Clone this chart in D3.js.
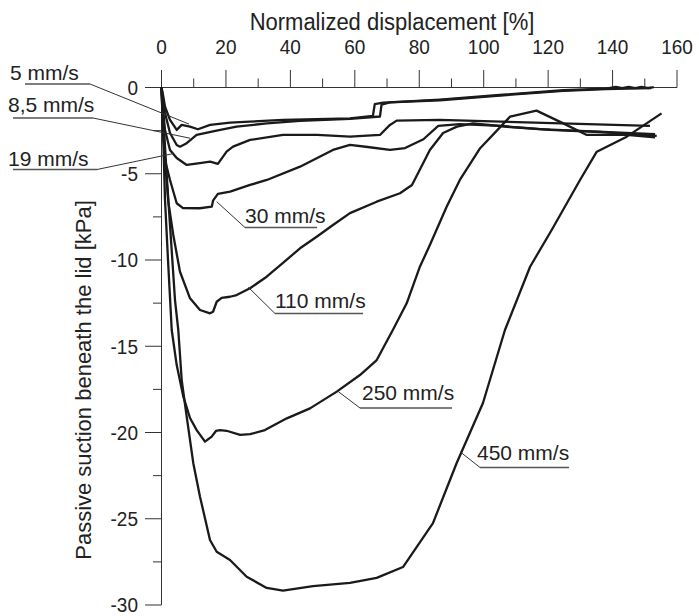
<!DOCTYPE html>
<html lang="en">
<head>
<meta charset="utf-8">
<title>Passive suction vs displacement</title>
<script src="https://cdn.jsdelivr.net/npm/d3@7"></script>
<style>
  body { margin: 0; background: #fff; }
  svg { display: block; font-family: "Liberation Sans", Arial, sans-serif; }
  .curve { fill: none; stroke: #1a1a1a; stroke-width: 2.3; stroke-linejoin: round; }
  .axis line, .axis path { stroke: #333; stroke-width: 1; }
  .tick-label { font-size: 19px; fill: #222; }
  .title { font-size: 22px; fill: #222; }
  .ytitle { font-size: 22px; fill: #222; }
  .lbl { font-size: 21px; fill: #222; }
  .leader { stroke: #333; stroke-width: 1; fill: none; }
  .uline { stroke: #555; stroke-width: 1.3; }
</style>
</head>
<body>
<div id="chart"></div>
<script>
// speed of each test
var speeds = ["5 mm/s", "8,5 mm/s", "19 mm/s", "30 mm/s", "110 mm/s", "250 mm/s", "450 mm/s"];

// [normalized displacement %, suction kPa]
var curve5 = [[0,0],[0.47,-0.43],[1.09,-1.11],[2.64,-1.88],[4.72,-2.46],[6.27,-2.17],[8.85,-2.27],[11.3,-2.42],
  [15.1,-2.17],[21.3,-2.04],[27.4,-1.98],[37.7,-1.88],[48.2,-1.84],[58.5,-1.79],[65.6,-1.65],[66.2,-0.96],
  [68.8,-0.88],[75,-0.82],[86.4,-0.7],[104,-0.45],[124.7,-0.16],[138,-0.06],[141,0.03],[143,-0.04],[145,0.04],
  [147,-0.03],[149,0.04],[151,-0.03],[152.8,0.02]];
var curve85 = [[0,0],[1.09,-1.48],[2.64,-2.64],[4.72,-3.33],[5.74,-3.43],[7.82,-3.23],[10.9,-2.75],[17.1,-2.5],
  [23.3,-2.27],[32.7,-2.08],[43,-1.94],[58.5,-1.82],[67.8,-1.68],[68.3,-0.99],[70.9,-0.86],[86.4,-0.74],
  [104,-0.48],[124.7,-0.2],[138,-0.09],[152,-0.03]];
var curve19 = [[0,0],[0.47,-1.3],[1.09,-2.46],[2.64,-3.62],[4.72,-4.09],[7.82,-4.49],[11.9,-4.39],[15.1,-4.3],
  [17.5,-4.43],[20.2,-3.72],[22.2,-3.43],[27.5,-3.04],[37.7,-2.75],[48.3,-2.75],[58.5,-2.85],[67.8,-2.75],
  [70.9,-2.17],[73,-1.92],[86.4,-1.88],[151.6,-2.23]];
var curve30 = [[0,0],[0.47,-2.46],[1.09,-4.2],[2.64,-5.36],[4.72,-6.71],[6.67,-6.99],[11.9,-7.0],[15.6,-6.91],
  [16,-6.56],[17.5,-6.17],[21.3,-6.04],[27.5,-5.65],[32.7,-5.36],[43,-4.59],[53.2,-3.62],[58.5,-3.33],
  [64,-3.45],[70.9,-3.62],[75.6,-3.51],[81.3,-3.0],[85.9,-2.23],[92.6,-2.12],[105.1,-2.23],[117.5,-2.41],
  [129.9,-2.52],[153.2,-2.7]];
var curve110 = [[0,0],[0.47,-1.88],[1.09,-4.2],[2.11,-6.62],[3.66,-8.55],[5.74,-10.68],[8.85,-12.22],
  [11.95,-12.9],[15.05,-13.09],[16,-13.0],[17.13,-12.42],[18.68,-12.19],[21.26,-12.13],[23.34,-12.03],
  [27.47,-11.64],[32.65,-10.97],[37.71,-10.17],[42.99,-9.32],[48.17,-8.65],[53.23,-7.97],[58.5,-7.28],
  [66.79,-6.62],[74.02,-6.13],[77.75,-5.65],[83.3,-3.62],[87.4,-2.64],[91.7,-2.27],[96.7,-2.08],
  [108.2,-2.29],[120.6,-2.46],[136.1,-2.58],[153.7,-2.81]];
var curve250 = [[0,0],[0.47,-2.46],[1.09,-6.52],[2.02,-10.0],[3.17,-14.06],[4.72,-16.09],[6.77,-17.92],
  [8.85,-19.16],[10.92,-19.86],[13.5,-20.53],[15.58,-20.24],[16.9,-19.91],[18.2,-19.86],[20.2,-19.9],
  [24.4,-20.14],[27.5,-20.1],[32.1,-19.86],[38.9,-19.18],[46.1,-18.6],[54.4,-17.63],[61.6,-16.67],
  [66.8,-15.8],[71.8,-14.06],[76.1,-12.51],[80.2,-10.39],[83.3,-9.13],[88.5,-6.91],[92.6,-5.36],
  [98.9,-3.52],[108.2,-1.69],[116.4,-1.34],[124.7,-2.08],[132,-2.75],[144.4,-2.75],[153.2,-2.89]];
var curve450 = [[0,0],[0.78,-2.46],[1.71,-5.36],[2.95,-8.84],[4.19,-12.32],[5.21,-14.06],[6.27,-16.96],
  [7.82,-19.08],[9.87,-21.78],[11.95,-23.72],[15.05,-26.23],[17.13,-26.91],[21.26,-27.39],[26.44,-28.36],
  [32.65,-29.01],[37.71,-29.17],[47.02,-28.9],[58.5,-28.72],[66.79,-28.43],[74.95,-27.8],[84.26,-25.25],
  [91.62,-21.77],[99.78,-18.29],[106.6,-14.06],[114.4,-10.39],[121.1,-8.26],[129.9,-5.36],[135.1,-3.72],
  [144.4,-2.85],[155.2,-1.5]];
var curves = [curve5, curve85, curve19, curve30, curve110, curve250, curve450];

// point on each curve that the label leader touches
var leaderTargets = [[8.54,-2.12],[8.85,-2.94],[3.66,-3.83],[17.13,-6.62],[26.94,-11.58],[54.87,-17.63],[92.64,-21.11]];

var xTicksMajor = [0, 20, 40, 60, 80, 100, 120, 140, 160];
var xTicksMinor = [10, 30, 50, 70, 90, 110, 130, 150];
var yTicksMajor = [0, -5, -10, -15, -20, -25, -30];
var yTicksMinor = [-2.5, -7.5, -12.5, -17.5, -22.5, -27.5];

var width = 699, height = 616;
// numbers in the original look slightly taller than wide
var stretch = 1.1;

// label layout: text x, baseline, underline y, underline x1, x2, side the leader leaves from
var labelLayout = [
  {tx: 10, ty: 80, uy: 84, x1: 25, x2: 90, side: "right"},
  {tx: 8, ty: 112, uy: 118, x1: 13, x2: 93, side: "right"},
  {tx: 8, ty: 166, uy: 169.5, x1: 13, x2: 97, side: "right"},
  {tx: 245, ty: 222.5, uy: 227.5, x1: 245, x2: 317, side: "left"},
  {tx: 275, ty: 308, uy: 313.5, x1: 275, x2: 363, side: "left"},
  {tx: 362, ty: 400, uy: 408, x1: 360, x2: 452, side: "left"},
  {tx: 477, ty: 460, uy: 467.5, x1: 480, x2: 569, side: "left"}
];

var x = d3.scaleLinear().domain([0, 160]).range([161.5, 677]);
var y = d3.scaleLinear().domain([0, -30]).range([87.5, 605]);

var svg = d3.select("#chart").append("svg")
  .attr("width", width)
  .attr("height", height);

// x axis on top
var gx = svg.append("g").attr("class", "axis");
gx.append("line")
  .attr("x1", x(0) - 16.5).attr("x2", x(160))
  .attr("y1", y(0)).attr("y2", y(0));
gx.selectAll(".xmaj").data(xTicksMajor).enter().append("line")
  .attr("x1", function(d) { return x(d); }).attr("x2", function(d) { return x(d); })
  .attr("y1", y(0)).attr("y2", y(0) - 17.5);
gx.selectAll(".xmin").data(xTicksMinor).enter().append("line")
  .attr("x1", function(d) { return x(d); }).attr("x2", function(d) { return x(d); })
  .attr("y1", y(0)).attr("y2", y(0) - 9);
svg.selectAll(".xlab").data(xTicksMajor).enter().append("text")
  .attr("class", "tick-label")
  .attr("transform", function(d) { return "translate(" + x(d) + ",54) scale(1," + stretch + ")"; })
  .attr("text-anchor", "middle")
  .text(function(d) { return d; });

svg.append("text")
  .attr("class", "title")
  .attr("transform", "translate(392,30) scale(1," + stretch + ")")
  .attr("text-anchor", "middle")
  .text("Normalized displacement [%]");

// y axis
var gy = svg.append("g").attr("class", "axis");
gy.append("line")
  .attr("x1", x(0)).attr("x2", x(0))
  .attr("y1", y(0)).attr("y2", y(-30));
gy.selectAll(".ymaj").data(yTicksMajor).enter().append("line")
  .attr("x1", x(0) - 16.5).attr("x2", x(0))
  .attr("y1", function(d) { return y(d); }).attr("y2", function(d) { return y(d); });
gy.selectAll(".ymin").data(yTicksMinor).enter().append("line")
  .attr("x1", x(0) - 8.5).attr("x2", x(0))
  .attr("y1", function(d) { return y(d); }).attr("y2", function(d) { return y(d); });
svg.selectAll(".ylab").data(yTicksMajor).enter().append("text")
  .attr("class", "tick-label")
  .attr("transform", function(d) { return "translate(138," + y(d) + ") scale(1," + stretch + ")"; })
  .attr("dy", "0.35em")
  .attr("text-anchor", "end")
  .text(function(d) { return String(d); });

svg.append("text")
  .attr("class", "ytitle")
  .attr("transform", "translate(91,380) rotate(-90)")
  .attr("text-anchor", "middle")
  .text("Passive suction beneath the lid [kPa]");

// curves
var line = d3.line()
  .x(function(d) { return x(d[0]); })
  .y(function(d) { return y(d[1]); });

svg.selectAll(".curve").data(curves).enter().append("path")
  .attr("class", "curve")
  .attr("d", line);

// labels with leaders
speeds.forEach(function(s, i) {
  var L = labelLayout[i];
  var t = leaderTargets[i];
  var sx = L.side === "right" ? L.x2 : L.x1;
  svg.append("line").attr("class", "uline")
    .attr("x1", L.x1).attr("x2", L.x2).attr("y1", L.uy).attr("y2", L.uy);
  svg.append("line").attr("class", "leader")
    .attr("x1", sx).attr("y1", L.uy)
    .attr("x2", x(t[0])).attr("y2", y(t[1]));
  svg.append("text").attr("class", "lbl")
    .attr("x", L.tx).attr("y", L.ty)
    .text(s);
});
</script>
</body>
</html>
